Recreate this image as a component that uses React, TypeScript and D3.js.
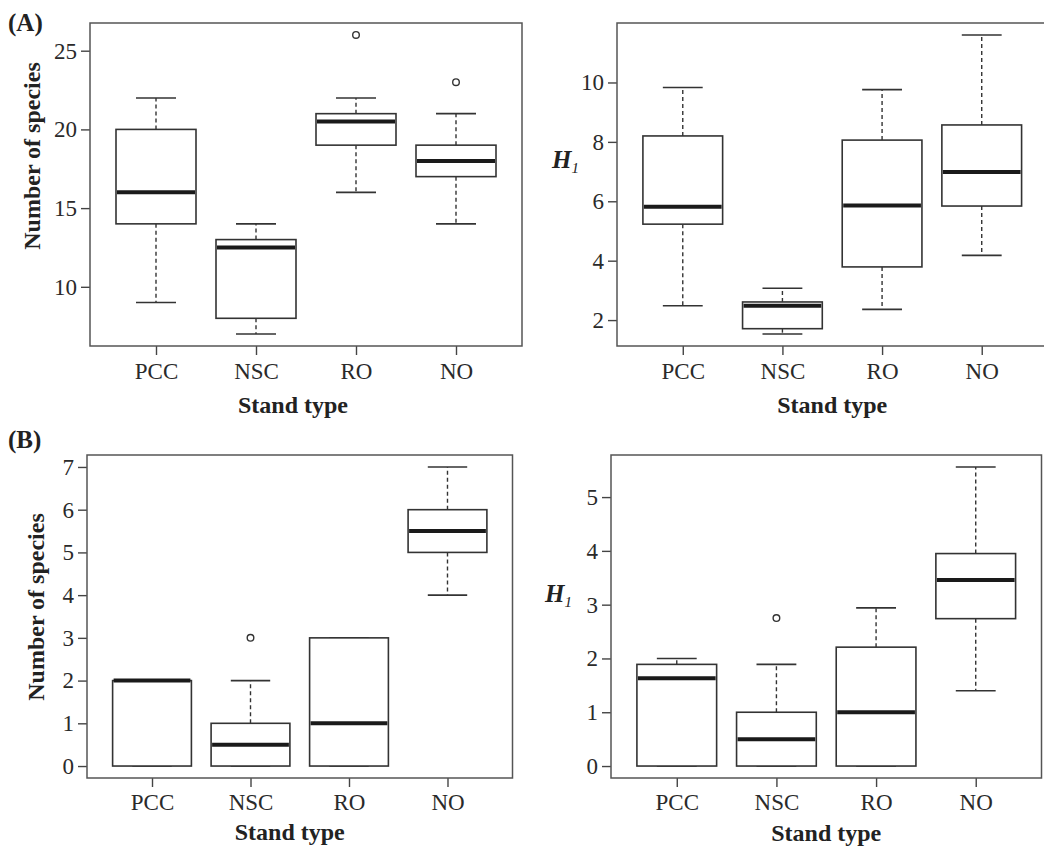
import React, { useRef, useEffect } from "react";
import * as d3 from "d3";

// stand types on the x axis
const standTypes = ["PCC", "NSC", "RO", "NO"];

// (A) left: number of species  [lower whisker, Q1, median, Q3, upper whisker]
const richnessA = [
  [9, 14, 16, 20, 22],
  [7, 8, 12.5, 13, 14],
  [16, 19, 20.5, 21, 22],
  [14, 17, 18, 19, 21],
];
const richnessAOutliers = [[], [], [26], [23]];
const richnessATicks = [10, 15, 20, 25];

// (A) right: H1
const hillA = [
  [2.48, 5.23, 5.82, 8.2, 9.83],
  [1.53, 1.71, 2.48, 2.61, 3.07],
  [2.36, 3.79, 5.86, 8.06, 9.76],
  [4.18, 5.84, 6.99, 8.57, 11.6],
];
const hillAOutliers = [[], [], [], []];
const hillATicks = [2, 4, 6, 8, 10];

// (B) left: number of species
const richnessB = [
  [0, 0, 2, 2, 2],
  [0, 0, 0.5, 1, 2],
  [0, 0, 1, 3, 3],
  [4, 5, 5.5, 6, 7],
];
const richnessBOutliers = [[], [3], [], []];
const richnessBTicks = [0, 1, 2, 3, 4, 5, 6, 7];

// (B) right: H1
const hillB = [
  [0, 0, 1.63, 1.89, 2.0],
  [0, 0, 0.5, 1.0, 1.89],
  [0, 0, 1.0, 2.21, 2.94],
  [1.4, 2.74, 3.46, 3.95, 5.56],
];
const hillBOutliers = [[], [2.75], [], []];
const hillBTicks = [0, 1, 2, 3, 4, 5];

const FONT = "'Liberation Serif', 'Times New Roman', serif";

const drawPanel = (svg, p) => {
  const { stats, outliers, ticks, left, top, right, bottom, xPad } = p;
  const g = svg.append("g");

  const x = d3.scaleLinear().domain([0.34, 4.66]).range([left, right]);
  const all = stats.flat().concat(outliers.flat());
  const lo = d3.min(all), hi = d3.max(all);
  const pad = (hi - lo) * 0.04;
  const y = d3.scaleLinear().domain([lo - pad, hi + pad]).range([bottom, top]);

  // axes
  const yAxis = g.append("g")
    .attr("transform", `translate(${left},0)`)
    .call(d3.axisLeft(y).tickValues(ticks).tickSize(9).tickPadding(4).tickFormat(d3.format("d")));
  const xAxis = g.append("g")
    .attr("transform", `translate(0,${bottom})`)
    .call(d3.axisBottom(x).tickValues([1, 2, 3, 4]).tickSize(9).tickPadding(xPad)
      .tickFormat((d) => standTypes[d - 1]));
  [yAxis, xAxis].forEach((a) => {
    a.select(".domain").remove();
    a.selectAll("line").attr("stroke", "#444").attr("stroke-width", 1.4);
    a.selectAll("text").attr("font-family", FONT).attr("font-size", 23).attr("fill", "#2a2a2a");
  });

  const boxes = g.selectAll(".box").data(stats).enter().append("g").attr("class", "box");
  const cx = (i) => x(i + 1);

  // whiskers
  boxes.append("line")
    .attr("x1", (d, i) => cx(i)).attr("x2", (d, i) => cx(i))
    .attr("y1", (d) => y(d[3])).attr("y2", (d) => y(d[4]));
  boxes.append("line")
    .attr("x1", (d, i) => cx(i)).attr("x2", (d, i) => cx(i))
    .attr("y1", (d) => y(d[1])).attr("y2", (d) => y(d[0]));
  boxes.selectAll("line")
    .attr("stroke", "#333").attr("stroke-width", 1.4).attr("stroke-dasharray", "4,3");

  // staples
  [0, 4].forEach((k) => {
    boxes.append("line")
      .attr("x1", (d, i) => x(i + 1 - 0.2)).attr("x2", (d, i) => x(i + 1 + 0.2))
      .attr("y1", (d) => y(d[k])).attr("y2", (d) => y(d[k]))
      .attr("stroke", "#333").attr("stroke-width", 1.6);
  });

  // box
  boxes.append("rect")
    .attr("x", (d, i) => x(i + 1 - 0.4))
    .attr("width", (d, i) => x(i + 1 + 0.4) - x(i + 1 - 0.4))
    .attr("y", (d) => y(d[3]))
    .attr("height", (d) => y(d[1]) - y(d[3]))
    .attr("fill", "#fff").attr("stroke", "#333").attr("stroke-width", 1.6);

  // median
  boxes.append("line")
    .attr("x1", (d, i) => x(i + 1 - 0.4) + 1).attr("x2", (d, i) => x(i + 1 + 0.4) - 1)
    .attr("y1", (d) => y(d[2])).attr("y2", (d) => y(d[2]))
    .attr("stroke", "#1a1a1a").attr("stroke-width", 4);

  // outliers
  outliers.forEach((vals, i) => {
    g.selectAll(null).data(vals).enter().append("circle")
      .attr("cx", cx(i)).attr("cy", (v) => y(v)).attr("r", 3.3)
      .attr("fill", "none").attr("stroke", "#333").attr("stroke-width", 1.4);
  });

  // frame
  g.append("rect")
    .attr("x", left).attr("y", top)
    .attr("width", right - left).attr("height", bottom - top)
    .attr("fill", "none").attr("stroke", "#555").attr("stroke-width", 1.5);

  // x title
  g.append("text")
    .attr("x", (left + right) / 2 - (p.titleShift || 0)).attr("y", bottom + p.titleGap)
    .attr("text-anchor", "middle").attr("font-family", FONT)
    .attr("font-size", 24).attr("font-weight", "bold").attr("fill", "#222")
    .text("Stand type");

  // y title
  if (p.yLabel === "species") {
    g.append("text")
      .attr("transform", `translate(${p.yLabelX},${p.yLabelY}) rotate(-90)`)
      .attr("text-anchor", "middle").attr("font-family", FONT)
      .attr("font-size", 24).attr("font-weight", "bold").attr("fill", "#222")
      .text("Number of species");
  } else {
    const t = g.append("text")
      .attr("x", p.yLabelX).attr("y", p.yLabelY)
      .attr("font-family", FONT).attr("fill", "#222");
    t.append("tspan").attr("font-size", 25).attr("font-weight", "bold").attr("font-style", "italic").text("H");
    t.append("tspan").attr("font-size", 15).attr("font-style", "italic").attr("dy", 5).text("1");
  }
};

const App = () => {
  const ref = useRef(null);

  useEffect(() => {
    const svg = d3.select(ref.current);
    svg.selectAll("*").remove();

    drawPanel(svg, {
      stats: richnessA, outliers: richnessAOutliers, ticks: richnessATicks,
      left: 90, top: 23, right: 522, bottom: 346, xPad: 8, titleGap: 67, titleShift: 13,
      yLabel: "species", yLabelX: 40, yLabelY: 156,
    });
    drawPanel(svg, {
      stats: hillA, outliers: hillAOutliers, ticks: hillATicks,
      left: 617, top: 23, right: 1047.5, bottom: 346, xPad: 8, titleGap: 67, titleShift: 0,
      yLabel: "H", yLabelX: 552, yLabelY: 168,
    });
    drawPanel(svg, {
      stats: richnessB, outliers: richnessBOutliers, ticks: richnessBTicks,
      left: 87, top: 455, right: 512.5, bottom: 778, xPad: 7, titleGap: 62, titleShift: 10,
      yLabel: "species", yLabelX: 44, yLabelY: 607,
    });
    drawPanel(svg, {
      stats: hillB, outliers: hillBOutliers, ticks: hillBTicks,
      left: 611, top: 455, right: 1041.5, bottom: 778, xPad: 7, titleGap: 63, titleShift: 0,
      yLabel: "H", yLabelX: 545, yLabelY: 602,
    });

    [["(A)", 31], ["(B)", 448]].forEach(([lab, yy]) => {
      svg.append("text")
        .attr("x", 8).attr("y", yy)
        .attr("font-family", FONT).attr("font-size", 25).attr("font-weight", "bold").attr("fill", "#222")
        .text(lab);
    });
  }, []);

  return (
    <svg
      ref={ref}
      width={1044}
      height={847}
      style={{ position: "absolute", left: 0, top: 0, display: "block", background: "#fff" }}
    />
  );
};

export default App;
